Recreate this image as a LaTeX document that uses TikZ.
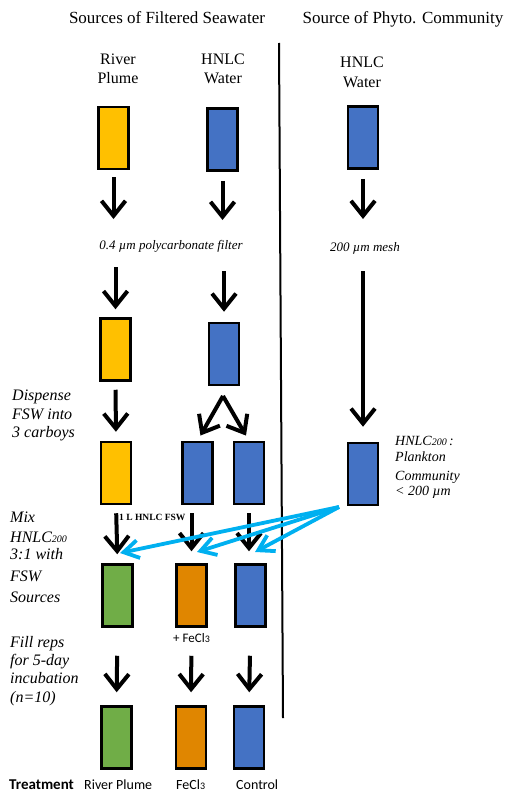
\documentclass[tikz,border=0pt]{standalone}
\usepackage{fontspec}
\setmainfont{Liberation Serif}[ItalicFont={Liberation Serif Italic}, BoldFont={Liberation Serif Bold}]
\newfontfamily\calfont{Carlito}
\usetikzlibrary{arrows.meta}
\definecolor{cyell}{RGB}{255,192,0}
\definecolor{cblue}{RGB}{68,114,196}
\definecolor{cgreen}{RGB}{112,173,71}
\definecolor{corange}{RGB}{224,134,0}
\definecolor{ccyan}{RGB}{0,176,240}
\newcommand{\fs}[1]{\fontsize{#1bp}{#1bp}\selectfont}
\newcommand{\lowsub}[1]{\raisebox{-0.8bp}{\fs{10}#1}}
\tikzset{
  box/.style={draw=black, line width=2.5bp, minimum width=30bp, minimum height=62bp, inner sep=0pt},
  yb/.style={box, fill=cyell},
  bb/.style={box, fill=cblue},
  gb/.style={box, fill=cgreen},
  ob/.style={box, fill=corange},
  arr/.style={draw=black, line width=4bp, -{Straight Barb[length=15bp,width=24bp,line width=4bp]}},
  carr/.style={draw=ccyan, line width=3.8bp, -{Straight Barb[length=15bp,width=18bp,line width=3.8bp]}},
  hdr/.style={anchor=base, inner sep=0pt, font=\fs{17}},
  lbl/.style={anchor=base, inner sep=0pt, font=\fs{16}},
  side/.style={anchor=base west, inner sep=0pt, font=\fs{16}\itshape},
  small/.style={anchor=base, inner sep=0pt, font=\fs{13}\itshape},
  cal/.style={anchor=base west, inner sep=0pt, font=\calfont\fs{14}},
}
\begin{document}
\begin{tikzpicture}[x=1bp,y=-1bp]
\useasboundingbox (0,0) rectangle (510,794);
% headers
\node[hdr] (h1) at (167,24) {Sources of Filtered Seawater};
\node[hdr] (h2) at (403,24) {Source of Phyto. Community};
\node[lbl] (t1a) at (118,65) {River};
\node[lbl] (t1b) at (118,83) {Plume};
\node[lbl] (t2a) at (223,65) {HNLC};
\node[lbl] (t2b) at (223,83) {Water};
\node[lbl] (t3a) at (362,68) {HNLC};
\node[lbl] (t3b) at (362,87) {Water};
% divider
\coordinate (v1) at (279,43);
\coordinate (v2) at (283,718);
\draw[line width=2bp] (v1) -- (v2);
% boxes
\node[yb] (y1) at (113.5,138) {};
\node[bb] (b1) at (222.5,139.5) {};
\node[bb] (r1) at (363,137.5) {};
\node[yb] (y2) at (115.5,349.5) {};
\node[bb] (b2) at (224,354) {};
\node[yb] (y3) at (116,473) {};
\node[bb] (b3a) at (197.5,473) {};
\node[bb] (b3b) at (249,473) {};
\node[bb] (r3) at (363,474) {};
\node[gb] (g5) at (117.5,595.5) {};
\node[ob] (o5) at (191.5,595.5) {};
\node[bb] (c5) at (250.5,595.5) {};
\node[gb] (g6) at (116.5,737.5) {};
\node[ob] (o6) at (191,737.5) {};
\node[bb] (c6) at (249,737.5) {};
% filter texts
\node[small] (filt) at (171,249) {0.4 µm polycarbonate filter};
\node[small] (mesh) at (365,251) {200 µm mesh};
% arrows row 1
\coordinate (e1) at (113.5,219);
\coordinate (e2) at (222.5,220);
\coordinate (e3) at (363,219);
\draw[arr, shorten <=7bp] (y1.south) -- (e1);
\draw[arr, shorten <=9bp] (b1.south) -- (e2);
\draw[arr, shorten <=9bp] (r1.south) -- (e3);
% arrows row 2
\coordinate (s1) at (115.5,267);
\coordinate (s2) at (224,271);
\coordinate (s3) at (363,271);
\draw[arr, shorten >=8bp] (s1) -- (y2.north);
\draw[arr, shorten >=10bp] (s2) -- (b2.north);
\draw[arr, shorten >=15bp] (s3) -- (r3.north);
% row 3 arrows
\draw[arr, shorten <=8bp, shorten >=9bp] (y2.south) -- (y3.north);
\coordinate (apex) at (223,396);
\draw[arr, shorten >=6bp] (apex) -- (b3a.north);
\draw[arr, shorten >=6bp] (apex) -- (b3b.north);
% side labels
\node[side] (d1) at (12,400) {Dispense};
\node[side] (d2) at (12,419) {FSW into};
\node[side] (d3) at (12,437) {3 carboys};
\node[side] (m1) at (10,522) {Mix};
\node[side] (m2) at (10,542) {HNLC\lowsub{200}};
\node[side] (m3) at (10,559) {3:1 with};
\node[side] (m4) at (10,581) {FSW};
\node[side] (m5) at (10,602) {Sources};
\node[side] (f1) at (10,647) {Fill reps};
\node[side] (f2) at (10,665) {for 5-day};
\node[side] (f3) at (10,683) {incubation};
\node[side] (f4) at (10,702) {(n=10)};
% right label
\node[anchor=base west, inner sep=0pt, font=\fs{14}\itshape] (p1) at (395,445) {HNLC\lowsub{200}\,:};
\node[anchor=base west, inner sep=0pt, font=\fs{14}\itshape] (p2) at (395,461) {Plankton};
\node[anchor=base west, inner sep=0pt, font=\fs{14}\itshape] (p3) at (395,480) {Community};
\node[anchor=base west, inner sep=0pt, font=\fs{14}\itshape] (p4) at (395,495) {< 200 µm};
% row 4 arrows
\draw[arr, shorten <=8bp, shorten >=9bp] (y3.south) -- (g5.north);
\draw[arr, shorten <=8bp, shorten >=12bp] (b3a.south -| o5.north) -- (o5.north);
\draw[arr, shorten <=8bp, shorten >=12bp] (b3b.south) -- (b3b.south |- c5.north);
\node[anchor=base west, inner sep=0pt, font=\fs{9.5}\bfseries] (lhn) at (119,520) {1 L HNLC FSW};
% cyan arrows
\coordinate (cs) at (339,507);
\coordinate (ct1) at (120,553);
\coordinate (ct2) at (197,552);
\coordinate (ct3) at (255,552);
\draw[carr] (cs) -- (ct1);
\draw[carr] (cs) -- (ct2);
\draw[carr] (cs) -- (ct3);
% row 5 labels
\node[anchor=base west, inner sep=0pt, font=\calfont\fs{13}] (fe) at (173,642) {+ FeCl\lowsub{3}};
% row 6 arrows
\draw[arr, shorten <=28bp, shorten >=13bp] (g5.south) -- (g6.north);
\draw[arr, shorten <=28bp, shorten >=13bp] (o5.south) -- (o6.north);
\draw[arr, shorten <=28bp, shorten >=13bp] (c5.south) -- (c6.north);
% bottom labels
\node[cal, font=\calfont\bfseries\fs{15}] (tr) at (9,789) {Treatment};
\node[cal] (lr) at (84,789) {River Plume};
\node[cal] (lf) at (176,789) {FeCl\lowsub{3}};
\node[cal] (lc) at (236,789) {Control};
\end{tikzpicture}
\end{document}
